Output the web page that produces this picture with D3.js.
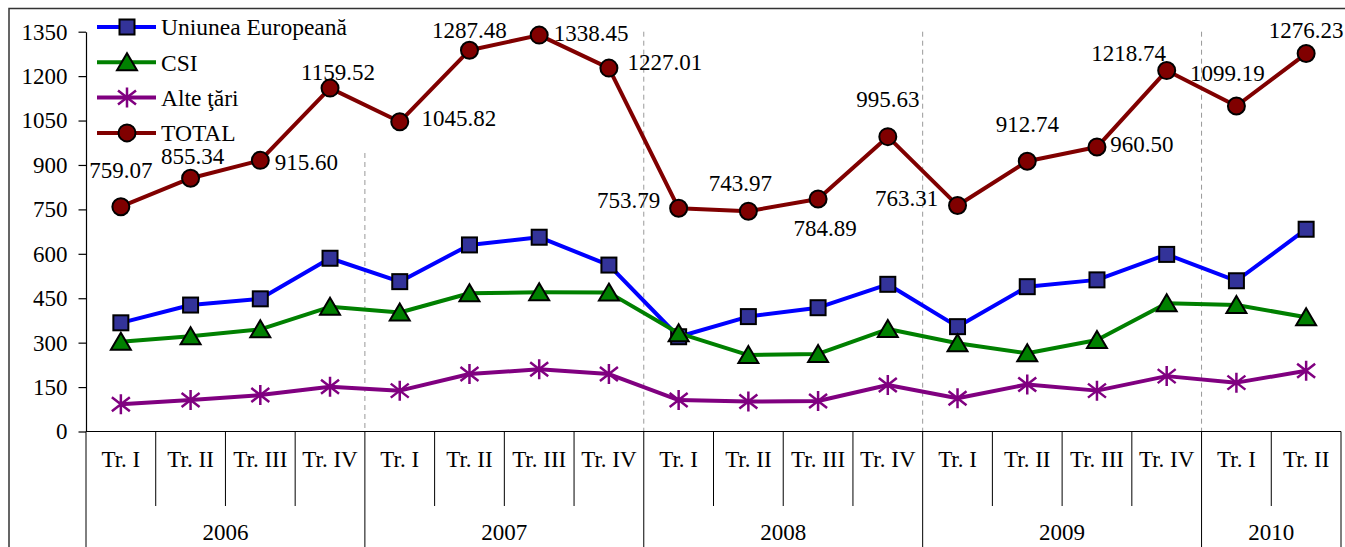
<!DOCTYPE html>
<html>
<head>
<meta charset="utf-8">
<script src="https://cdn.jsdelivr.net/npm/d3@7"></script>
<style>
  body { margin: 0; background: #fff; }
  svg, svg text { font-family: "Liberation Serif", "Times New Roman", serif; }
</style>
</head>
<body>
<div id="chart"></div>
<script>
// Data
const quarterLabels = ["Tr. I","Tr. II","Tr. III","Tr. IV","Tr. I","Tr. II","Tr. III","Tr. IV",
  "Tr. I","Tr. II","Tr. III","Tr. IV","Tr. I","Tr. II","Tr. III","Tr. IV","Tr. I","Tr. II"];
const yearLabels = ["2006","2007","2008","2009","2010"];
const quartersPerYear = [4, 4, 4, 4, 2];
const yTicks = [0, 150, 300, 450, 600, 750, 900, 1050, 1200, 1350];

const ueValues = [367, 427, 448, 585, 506, 630, 656, 562, 320, 388, 418, 497, 354, 489, 512, 598, 509, 683];
const csiValues = [303, 322, 345, 421, 402, 467, 470, 469, 332, 258, 262, 346, 298, 264, 309, 433, 427, 386];
const alteValues = [92, 106, 123, 151, 138, 194, 210, 194, 106, 101, 103, 157, 112, 159, 138, 187, 165, 205];
const totalValues = [759.07, 855.34, 915.60, 1159.52, 1045.82, 1287.48, 1338.45, 1227.01, 753.79,
  743.97, 784.89, 995.63, 763.31, 912.74, 960.50, 1218.74, 1099.19, 1276.23];

// label placement for TOTAL values (offset from the point, px)
const labelOffsets = [[0,-37],[2,-22],[46,2],[8,-16],[59,-4],[0,-20],[52,-2],[56,-6],[-50,-8],
  [-8,-28],[7,29],[0,-38],[-51,-7],[0,-37],[45,-3],[-38,-18],[-9,-33],[0,-24]];

const series = [
  {name: "Uniunea Europeană", values: ueValues, line: "#0000ff", fill: "#333399", marker: "square"},
  {name: "CSI", values: csiValues, line: "#008000", fill: "#008000", marker: "triangle"},
  {name: "Alte ţări", values: alteValues, line: "#800080", fill: "#800080", marker: "star"},
  {name: "TOTAL", values: totalValues, line: "#800000", fill: "#800000", marker: "circle"}
];

const W = 1345, H = 547;
const plot = {left: 86, right: 1341, top: 31.7, bottom: 431.5};
const FONT = '"Liberation Serif", "Times New Roman", serif';

const svg = d3.select("#chart").append("svg")
  .attr("width", W)
  .attr("height", H)
  .attr("font-family", FONT);

svg.append("rect")
  .attr("width", W).attr("height", H).attr("fill", "#fff");

// outer frame (only top and left are visible)
svg.append("rect")
  .attr("x", 9).attr("y", 8.5)
  .attr("width", W + 20).attr("height", H + 20)
  .attr("fill", "none").attr("stroke", "#333").attr("stroke-width", 1.5);

const x = d3.scaleBand()
  .domain(d3.range(quarterLabels.length))
  .range([plot.left, plot.right]);

const y = d3.scaleLinear()
  .domain([0, 1350])
  .range([plot.bottom, plot.top]);

const cx = i => x(i) + x.bandwidth() / 2;

// year boundaries
const yearStarts = [0];
quartersPerYear.forEach((n, k) => yearStarts.push(yearStarts[k] + n));

// dashed separators between years
svg.append("g").selectAll("line")
  .data(yearStarts.slice(1, -1))
  .enter().append("line")
  .attr("x1", d => x(d)).attr("x2", d => x(d))
  .attr("y1", (d, k) => k === 0 ? 153 : plot.top)
  .attr("y2", plot.bottom)
  .attr("stroke", "#999").attr("stroke-width", 1)
  .attr("stroke-dasharray", "5,4");

// Y axis
const yAxis = svg.append("g")
  .attr("transform", `translate(${plot.left},0)`)
  .call(d3.axisLeft(y).tickValues(yTicks).tickFormat(d3.format("d"))
    .tickSize(7.5).tickSizeOuter(0).tickPadding(11));
yAxis.attr("font-family", FONT).attr("font-size", 23);
yAxis.select(".domain").attr("stroke", "#000").attr("stroke-width", 1.2);
yAxis.selectAll(".tick line").attr("stroke", "#000").attr("stroke-width", 1.2);
yAxis.selectAll(".tick text").attr("fill", "#000");

// X axis: baseline, category dividers and labels
const xAxis = svg.append("g").attr("font-size", 23);
xAxis.append("line")
  .attr("x1", plot.left).attr("x2", plot.right)
  .attr("y1", plot.bottom).attr("y2", plot.bottom)
  .attr("stroke", "#000").attr("stroke-width", 1.2);

xAxis.selectAll(".divider")
  .data(d3.range(quarterLabels.length + 1))
  .enter().append("line")
  .attr("class", "divider")
  .attr("x1", d => d === quarterLabels.length ? plot.right : x(d))
  .attr("x2", d => d === quarterLabels.length ? plot.right : x(d))
  .attr("y1", plot.bottom)
  .attr("y2", d => yearStarts.includes(d) ? H : 506)
  .attr("stroke", "#000").attr("stroke-width", 1);

xAxis.selectAll(".qlabel")
  .data(quarterLabels)
  .enter().append("text")
  .attr("class", "qlabel")
  .attr("x", (d, i) => cx(i))
  .attr("y", 459)
  .attr("dy", "0.35em")
  .attr("text-anchor", "middle")
  .text(d => d);

xAxis.selectAll(".ylabel")
  .data(yearLabels)
  .enter().append("text")
  .attr("class", "ylabel")
  .attr("x", (d, k) => (x(yearStarts[k]) + (yearStarts[k + 1] === quarterLabels.length ? plot.right : x(yearStarts[k + 1]))) / 2)
  .attr("y", 532)
  .attr("dy", "0.35em")
  .attr("text-anchor", "middle")
  .text(d => d);

// markers
function drawMarker(g, type, fill) {
  if (type === "square") {
    g.append("rect").attr("x", -7.5).attr("y", -7.5).attr("width", 15).attr("height", 15)
      .attr("fill", fill).attr("stroke", "#000").attr("stroke-width", 2);
  } else if (type === "triangle") {
    g.append("path").attr("d", "M0,-9L10,8L-10,8Z")
      .attr("fill", fill).attr("stroke", "#000").attr("stroke-width", 2).attr("stroke-linejoin", "miter");
  } else if (type === "circle") {
    g.append("circle").attr("r", 8.5)
      .attr("fill", fill).attr("stroke", "#000").attr("stroke-width", 2);
  } else if (type === "star") {
    g.append("path").attr("d", "M0,-10V10M-9,-7L9,7M-9,7L9,-7")
      .attr("fill", "none").attr("stroke", fill).attr("stroke-width", 2.5);
  }
}

const line = d3.line()
  .x((d, i) => cx(i))
  .y(d => y(d));

series.forEach(s => {
  const g = svg.append("g");
  g.append("path")
    .datum(s.values)
    .attr("d", line)
    .attr("fill", "none")
    .attr("stroke", s.line)
    .attr("stroke-width", 4)
    .attr("stroke-linejoin", "round");
  g.selectAll(".pt")
    .data(s.values)
    .enter().append("g")
    .attr("class", "pt")
    .attr("transform", (d, i) => `translate(${cx(i)},${y(d)})`)
    .each(function() { drawMarker(d3.select(this), s.marker, s.fill); });
});

// TOTAL value labels
svg.append("g").attr("font-size", 23).selectAll("text")
  .data(totalValues)
  .enter().append("text")
  .attr("x", (d, i) => cx(i) + labelOffsets[i][0])
  .attr("y", (d, i) => y(d) + labelOffsets[i][1])
  .attr("dy", "0.35em")
  .attr("text-anchor", "middle")
  .text(d => d.toFixed(2));

// legend
const legend = svg.append("g").attr("font-size", 23.5);
series.forEach((s, k) => {
  const ly = 27 + k * 35.3;
  legend.append("line")
    .attr("x1", 97).attr("x2", 156).attr("y1", ly).attr("y2", ly)
    .attr("stroke", s.line).attr("stroke-width", 4);
  const m = legend.append("g").attr("transform", `translate(127,${ly})`);
  drawMarker(m, s.marker, s.fill);
  legend.append("text")
    .attr("x", 161).attr("y", ly)
    .attr("dy", "0.35em")
    .text(s.name);
});
</script>
</body>
</html>
